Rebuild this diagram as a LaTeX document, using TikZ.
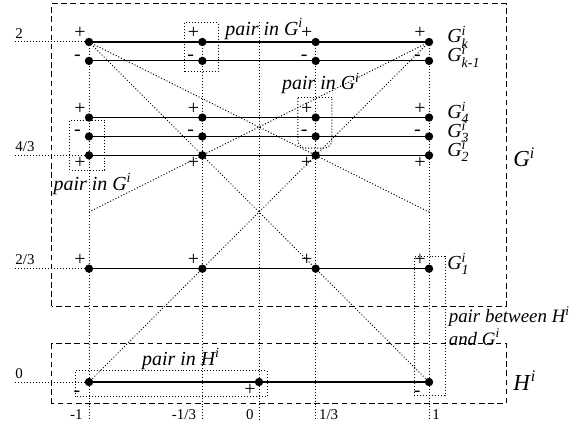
\documentclass[tikz,border=0pt]{standalone}
\usepackage{fontspec}
\usepackage{amsmath}
\setmainfont{Liberation Serif}
\newcommand{\grp}[3]{\textit{#1}$^{\textit{#2}}_{\textit{#3}}$}

\begin{document}
\begin{tikzpicture}[x=3cm, y=3cm,
  every node/.style={inner sep=0pt},
  guide/.style={line width=0.5pt, dash pattern=on 0.5pt off 1pt},
  pairbox/.style={line width=0.5pt, dash pattern=on 0.5pt off 1pt},
  grpbox/.style={line width=0.5pt, dash pattern=on 2.8pt off 1.8pt},
  sign/.style={font=\fontsize{10}{10}\selectfont},
  plusabove/.style={sign, xshift=-4.5pt, yshift=4.5pt},
  plusbelow/.style={sign, xshift=-4.5pt, yshift=-4pt},
  minusleft/.style={sign, xshift=-5.8pt, yshift=1.6pt},
  minusbelow/.style={sign, xshift=-6pt, yshift=-5.9pt},
  tick/.style={font=\fontsize{7.5}{7.5}\selectfont},
  pairlabel/.style={font=\fontsize{10}{8.5}\selectfont\itshape, anchor=base west},
  rowlabel/.style={font=\fontsize{10}{10}\selectfont, anchor=base west, yshift=-0.5pt},
  biglabel/.style={font=\fontsize{11.5}{11.5}\selectfont, anchor=base west}]

  \useasboundingbox (-1.5235,-0.2765) rectangle (1.888,2.247);

  % points
  \foreach \r/\y in {k/2, m/1.8889, d/1.5556, c/1.4444, b/1.3333, a/0.6667}{
    \coordinate (\r1) at (-1,\y);
    \coordinate (\r2) at (-0.3333,\y);
    \coordinate (\r3) at (0.3333,\y);
    \coordinate (\r4) at (1,\y);
  }
  \coordinate (h1) at (-1,0);
  \coordinate (h2) at (0,0);
  \coordinate (h3) at (1,0);

  \coordinate (l1) at (-1,1);
  \coordinate (r1) at (1,1);
  \coordinate (t0) at (0,2.118);

  \coordinate (e1) at (-1,-0.2235);
  \coordinate (e2) at (-0.3333,-0.2235);
  \coordinate (e0) at (0,-0.2235);
  \coordinate (e3) at (0.3333,-0.2235);
  \coordinate (e4) at (1,-0.2235);

  \coordinate (y2) at (-1.435,2);
  \coordinate (y43) at (-1.435,1.3333);
  \coordinate (y23) at (-1.435,0.6667);
  \coordinate (y0) at (-1.435,0);

  % guides
  \draw[guide] (k1) -- (e1);
  \draw[guide] (k2) -- (e2);
  \draw[guide] (t0) -- (e0);
  \draw[guide] (k3) -- (e3);
  \draw[guide] (k4) -- (e4);

  \draw[guide] (y2) -- (k1);
  \draw[guide] (y43) -- (b1);
  \draw[guide] (y23) -- (a1);
  \draw[guide] (y0) -- (h1);

  \draw[guide] (k1) -- (h3);
  \draw[guide] (k4) -- (h1);
  \draw[guide] (k1) -- (r1);
  \draw[guide] (k4) -- (l1);

  % groups
  \draw[grpbox] (-1.218,0.447) rectangle (1.453,2.224);
  \draw[grpbox] (-1.218,-0.129) rectangle (1.453,0.224);

  % pairs
  \draw[pairbox] (-0.441,1.824) rectangle (-0.241,2.112);
  \draw[pairbox] (0.229,1.671) -- (0.429,1.671);
  \draw[pairbox, rounded corners=4pt] (0.229,1.671) -- (0.229,1.376) -- (0.429,1.376) -- (0.429,1.671);
  \draw[pairbox] (-1.112,1.247) rectangle (-0.906,1.541);
  \draw[pairbox] (0.912,-0.082) rectangle (1.094,0.741);
  \draw[pairbox] (-1.082,-0.088) rectangle (0.047,0.065);

  % rows
  \foreach \r in {k,m,d,c,b,a}{
    \draw[line width=0.6pt] (\r1) -- (\r4);
    \foreach \c in {1,2,3,4}
      \fill (\r\c) circle (2.1pt);
  }
  \draw[line width=0.6pt] (h1) -- (h3);
  \fill (h1) circle (2.1pt);
  \fill (h2) circle (2.1pt);
  \fill (h3) circle (2.1pt);

  % signs
  \foreach \c in {1,2,3,4}{
    \node[plusabove] (sk\c) at (k\c) {+};
    \node[minusleft] (sm\c) at (m\c) {-};
    \node[plusabove] (sd\c) at (d\c) {+};
    \node[minusleft] (sc\c) at (c\c) {-};
    \node[plusbelow] (sb\c) at (b\c) {+};
    \node[plusabove] (sa\c) at (a\c) {+};
  }
  \node[minusbelow] (sh1) at (h1) {-};
  \node[plusbelow] (sh2) at (h2) {+};
  \node[minusbelow] (sh3) at (h3) {-};

  % axis values
  \node[tick, anchor=base west, yshift=2pt] (v2) at (y2) {2};
  \node[tick, anchor=base west, yshift=2pt] (v43) at (y43) {4/3};
  \node[tick, anchor=base west, yshift=2pt] (v23) at (y23) {2/3};
  \node[tick, anchor=base west, yshift=2pt] (v0) at (y0) {0};

  \node[tick, anchor=east, xshift=-3pt, yshift=2.5pt] (u1) at (e1) {-1};
  \node[tick, anchor=east, xshift=-3pt, yshift=2.5pt] (u2) at (e2) {-1/3};
  \node[tick, anchor=east, xshift=-2.5pt, yshift=2.5pt] (u0) at (e0) {0};
  \node[tick, anchor=west, xshift=1.5pt, yshift=2.5pt] (u3) at (e3) {1/3};
  \node[tick, anchor=west, xshift=1.5pt, yshift=2.5pt] (u4) at (e4) {1};

  % pair labels
  \node[pairlabel] (p1) at (-0.2,2.041) {pair in G$^{\textit{i}}$};
  \node[pairlabel] (p2) at (0.1335,1.718) {pair in G$^{\textit{i}}$};
  \node[pairlabel] (p3) at (-1.21,1.129) {pair in G$^{\textit{i}}$};
  \node[pairlabel] (p4) at (-0.69,0.1) {pair in H$^{\textit{i}}$};
  \node[pairlabel, font=\fontsize{9.5}{8.5}\selectfont\itshape, anchor=west, align=left] (p5) at (1.114,0.33) {pair between H$^{\textit{i}}$\\and G$^{\textit{i}}$};

  % group labels
  \node[rowlabel] (gk) at (k4) [xshift=9pt] {\grp{G}{i}{k}};
  \node[rowlabel] (gm) at (m4) [xshift=9pt] {\grp{G}{i}{k-1}};
  \node[rowlabel] (g4) at (d4) [xshift=9pt] {\grp{G}{i}{4}};
  \node[rowlabel] (g3) at (c4) [xshift=9pt] {\grp{G}{i}{3}};
  \node[rowlabel] (g2) at (b4) [xshift=9pt] {\grp{G}{i}{2}};
  \node[rowlabel] (g1) at (a4) [xshift=9pt] {\grp{G}{i}{1}};
  \node[biglabel] (gall) at (1.494,1.265) {\textit{G}$^{\textit{i}}$};
  \node[biglabel] (hall) at (1.494,-0.047) {\textit{H}$^{\textit{i}}$};
\end{tikzpicture}
\end{document}
